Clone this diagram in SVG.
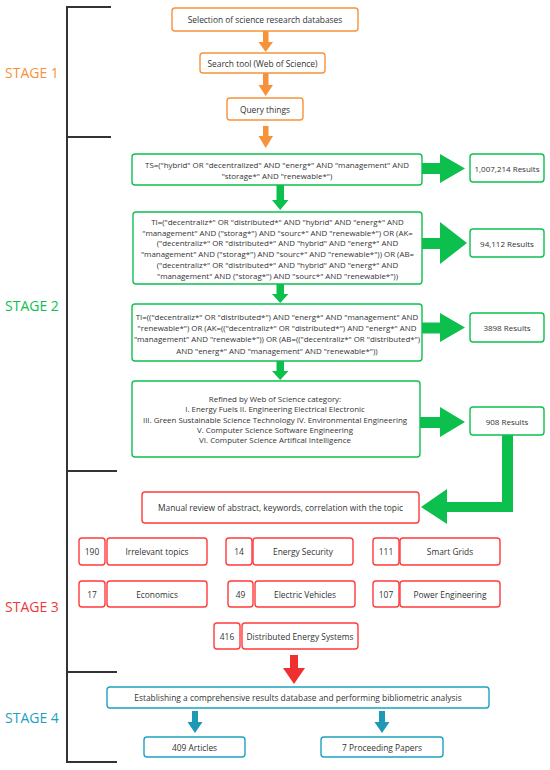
<svg xmlns="http://www.w3.org/2000/svg" width="550" height="770" viewBox="0 0 550 770">
<style>
text{font-family:"Open Sans","Liberation Sans",sans-serif;fill:#333;font-size:8.4px;text-anchor:middle;dominant-baseline:central}
.q{font-size:7.9px}
.res{font-size:8px}
.st{font-size:14px;text-anchor:start}
.o{fill:#fff;stroke:#F7923A;stroke-width:1.4}
.g{fill:#fff;stroke:#0DC04E;stroke-width:1.4}
.r{fill:#fff;stroke:#FF3B3B;stroke-width:1.4}
.b{fill:#fff;stroke:#1DA1C0;stroke-width:1.4}
.br{fill:none;stroke:#333;stroke-width:2}
</style>
<g id="bracket">
<path class="br" d="M67,7V762M66,7H111M66,137H111M66,471H117M66,672H117M66,762H117"/>
</g>
<g id="stage-labels">
<text class="st" x="5" y="72" style="fill:#F7923A">STAGE 1</text>
<text class="st" x="5" y="305" style="fill:#0DC04E">STAGE 2</text>
<text class="st" x="5" y="606" style="fill:#F0373A">STAGE 3</text>
<text class="st" x="5" y="717" style="fill:#1DA1C0">STAGE 4</text>
</g>
<g id="connectors">
<g fill="#F7923A">
<polygon points="263,31 268.5,31 268.5,42 273,42 265.7,52 258.5,42 263,42"/>
<polygon points="263,73 268.5,73 268.5,85 273,85 265.7,96 258.5,85 263,85"/>
<polygon points="263,126 268.5,126 268.5,136 273,136 265.7,148 258.5,136 263,136"/>
</g>
<g fill="#0DC04E">
<polygon points="276.5,185 284,185 284,200 288.5,200 280.2,210 272,200 276.5,200"/>
<polygon points="276.5,284 284,284 284,294 288.5,294 280.2,303 272,294 276.5,294"/>
<polygon points="276.5,361 284,361 284,371 288.5,371 280.2,380 272,371 276.5,371"/>
<polygon points="422,163 440,163 440,154 465,168.5 440,183 440,174 422,174"/>
<polygon points="422,238 440,238 440,222 467,243 440,264 440,249 422,249"/>
<polygon points="422,322.5 440,322.5 440,313 465,327.5 440,342 440,333.5 422,333.5"/>
<polygon points="420,417 440,417 440,407 465,422 440,437 440,428 420,428"/>
<polygon points="502,435 513,435 513,512 447,512 447,524 421,507 447,489 447,502 502,502"/>
</g>
<polygon fill="#F03030" points="290,655 298,655 298,668 305,668 294,684 283,668 290,668"/>
<g fill="#1E99B5">
<polygon points="192,711 198,711 198,722 202.5,722 195,733 187.5,722 192,722"/>
<polygon points="379,711 385,711 385,722 389.5,722 382,733 374.5,722 379,722"/>
</g>
</g>
<g id="n-selection"><rect class="o" x="172" y="8" width="186" height="23" rx="3"/><text x="265" y="19.5">Selection of science research databases</text></g>
<g id="n-search"><rect class="o" x="200" y="53" width="125" height="20" rx="3"/><text x="262.5" y="63">Search tool (Web of Science)</text></g>
<g id="n-query"><rect class="o" x="227" y="98" width="76" height="22" rx="3"/><text x="265" y="109">Query things</text></g>
<g id="n-ts"><rect class="g" x="132" y="154" width="290" height="31" rx="3"/>
<text class="q" x="277" y="165">TS=("hybrid" OR "decentralized" AND "energ*" AND "management" AND</text>
<text class="q" x="277" y="175.7">"storage*" AND "renewable*")</text></g>
<g id="n-r1"><rect class="g" x="470" y="154" width="74" height="28" rx="3"/><text class="res" x="507" y="168">1,007,214 Results</text></g>
<g id="n-ti"><rect class="g" x="133" y="212" width="289" height="72" rx="3"/>
<text class="q" x="277.5" y="221.7">TI=("decentraliz*" OR "distributed*" AND "hybrid" AND "energ*" AND</text>
<text class="q" x="277.5" y="232.5">"management" AND ("storag*") AND "sourc*" AND "renewable*") OR (AK=</text>
<text class="q" x="277.5" y="243.3">("decentraliz*" OR "distributed*" AND "hybrid" AND "energ*" AND</text>
<text class="q" x="277.5" y="254.1">"management" AND ("storag*") AND "sourc*" AND "renewable*")) OR (AB=</text>
<text class="q" x="277.5" y="264.9">("decentraliz*" OR "distributed*" AND "hybrid" AND "energ*" AND</text>
<text class="q" x="277.5" y="275.7">"management" AND ("storag*") AND "sourc*" AND "renewable*"))</text></g>
<g id="n-r2"><rect class="g" x="470" y="229" width="74" height="28" rx="3"/><text class="res" x="507" y="243">94,112 Results</text></g>
<g id="n-ti2"><rect class="g" x="132" y="304" width="290" height="57" rx="3"/>
<text class="q" x="277" y="316.7">TI=(("decentraliz*" OR "distributed*") AND "energ*" AND "management" AND</text>
<text class="q" x="277" y="328">"renewable*") OR (AK=(("decentraliz*" OR "distributed*") AND "energ*" AND</text>
<text class="q" x="277" y="339.3">"management" AND "renewable*")) OR (AB=(("decentraliz*" OR "distributed*")</text>
<text class="q" x="277" y="350.6">AND "energ*" AND "management" AND "renewable*"))</text></g>
<g id="n-r3"><rect class="g" x="470" y="313" width="74" height="29" rx="3"/><text class="res" x="507" y="327.5">3898 Results</text></g>
<g id="n-refined"><rect class="g" x="132" y="381" width="288" height="76" rx="3"/>
<text class="q" x="275" y="399">Refined by Web of Science category:</text>
<text class="q" x="275" y="409.3">I. Energy Fuels II. Engineering Electrical Electronic</text>
<text class="q" x="275" y="419.6">III. Green Sustainable Science Technology IV. Environmental Engineering</text>
<text class="q" x="275" y="429.9">V. Computer Science Software Engineering</text>
<text class="q" x="275" y="440.2">VI. Computer Science Artifical Intelligence</text></g>
<g id="n-r4"><rect class="g" x="470" y="407" width="74" height="28" rx="3"/><text class="res" x="507" y="421">908 Results</text></g>
<g id="n-manual"><rect class="r" x="142" y="492" width="277" height="31" rx="3"/><text x="280.5" y="507.5">Manual review of abstract, keywords, correlation with the topic</text></g>
<g id="n-irrelevant"><rect class="r" x="79" y="538" width="26" height="27" rx="3"/><text x="92" y="551.5">190</text><rect class="r" x="107" y="538" width="100" height="27" rx="3"/><text x="157" y="551.5">Irrelevant topics</text></g>
<g id="n-security"><rect class="r" x="226" y="538" width="26" height="27" rx="3"/><text x="239" y="551.5">14</text><rect class="r" x="253" y="538" width="100" height="27" rx="3"/><text x="303" y="551.5">Energy Security</text></g>
<g id="n-grids"><rect class="r" x="373" y="538" width="26" height="27" rx="3"/><text x="386" y="551.5">111</text><rect class="r" x="400" y="538" width="100" height="27" rx="3"/><text x="450" y="551.5">Smart Grids</text></g>
<g id="n-economics"><rect class="r" x="79" y="581" width="26" height="26" rx="3"/><text x="92" y="594">17</text><rect class="r" x="107" y="581" width="100" height="26" rx="3"/><text x="157" y="594">Economics</text></g>
<g id="n-ev"><rect class="r" x="228" y="581" width="25" height="26" rx="3"/><text x="240.5" y="594">49</text><rect class="r" x="255" y="581" width="100" height="26" rx="3"/><text x="305" y="594">Electric Vehicles</text></g>
<g id="n-power"><rect class="r" x="373" y="581" width="26" height="26" rx="3"/><text x="386" y="594">107</text><rect class="r" x="400" y="581" width="100" height="26" rx="3"/><text x="450" y="594">Power Engineering</text></g>
<g id="n-des"><rect class="r" x="214" y="623" width="26" height="26" rx="3"/><text x="227" y="636">416</text><rect class="r" x="242" y="623" width="116" height="26" rx="3"/><text x="300" y="636">Distributed Energy Systems</text></g>
<g id="n-database"><rect class="b" x="107" y="687" width="382" height="21" rx="3"/><text x="298" y="697.5">Establishing a comprehensive results database and performing bibliometric analysis</text></g>
<g id="n-articles"><rect class="b" x="144" y="737" width="101" height="20" rx="3"/><text x="194.5" y="747">409 Articles</text></g>
<g id="n-papers"><rect class="b" x="321" y="737" width="122" height="20" rx="3"/><text x="382" y="747">7 Proceeding Papers</text></g>
</svg>
